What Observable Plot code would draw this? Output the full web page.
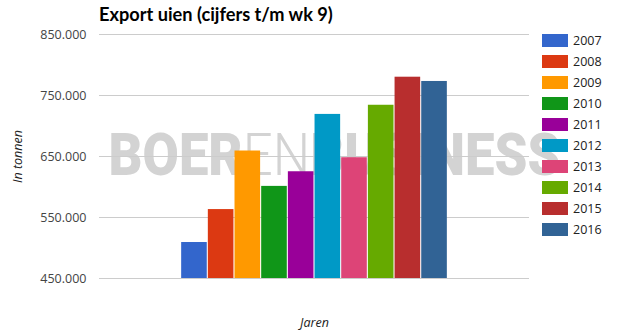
<!DOCTYPE html>
<html><head><meta charset="utf-8">
<script src="https://cdn.jsdelivr.net/npm/d3@7"></script>
<script src="https://cdn.jsdelivr.net/npm/@observablehq/plot@0.6"></script>
<style>
body{margin:0;background:#fff;}
#wrap{position:relative;width:621px;height:334px;overflow:hidden;}
#wrap > svg{position:absolute;left:0;top:0;}
#title{position:absolute;left:99px;top:2px;font-family:Lato;font-weight:bold;font-size:18.2px;line-height:24px;color:#000;white-space:nowrap;z-index:2;}
#legend{position:absolute;left:542px;top:34px;z-index:3;background:transparent;}
#legend, #legend *{background:transparent !important;}
#legend .lg-swatches{margin:0 !important;}
#legend .lg-swatch{padding-bottom:8px !important;height:13px;}
#legend .lg-swatch-label{line-height:13px;font-size:12.5px;color:#222;font-family:'Open Sans';overflow:visible !important;text-overflow:clip !important;}
#legend .lg-swatch > svg{margin-right:5px !important;}
</style></head><body>
<div id="wrap"><div id="title">Export uien (cijfers t/m wk 9)</div><div id="legend"></div></div>
<script>
const years = ["2007","2008","2009","2010","2011","2012","2013","2014","2015","2016"];
const exportTonnes = [509000,563000,659000,601000,625000,719000,648000,734000,780000,773000];
const colors = ["#3366cc","#dc3912","#ff9900","#109618","#990099","#0099c6","#dd4477","#66aa00","#b82e2e","#316395"];
const yDomain = [450000, 850000];
const yTicks = [450000, 550000, 650000, 750000, 850000];
const watermark = ["BOER", "EN", "BUSINESS"];

const nl = d3.formatLocale({decimal: ",", thousands: ".", grouping: [3], currency: ["€", ""]});
const fmt = nl.format(",d");
const data = years.map((y, i) => ({year: y, value: exportTonnes[i]}));

const chart = Plot.plot({
  width: 621, height: 334,
  marginTop: 34, marginBottom: 56, marginLeft: 99, marginRight: 92,
  style: {fontFamily: "'Open Sans'", fontSize: "12.5px", color: "#444", background: "transparent"},
  x: {type: "band", domain: years, paddingInner: 0.04, paddingOuter: 3.08, round: false, axis: null},
  y: {domain: yDomain, axis: null},
  color: {domain: years, range: colors},
  marks: [
    Plot.text([watermark.join("")], {frameAnchor: "left", textAnchor: "start", dx: 9, fontSize: 59, fontWeight: 900, fontFamily: "Roboto", fill: "#d3d3d3"}),
    Plot.gridY(yTicks, {stroke: "#ccc", strokeOpacity: 1}),
    Plot.axisY(yTicks, {tickSize: 0, tickPadding: 13, tickFormat: fmt, label: null}),
    Plot.axisY({ticks: [], tickSize: 0, label: "In tonnen", labelAnchor: "center", labelArrow: "none", labelOffset: 86, fontStyle: "italic", fill: "#222"}),
    Plot.axisX({ticks: [], tickSize: 0, label: "Jaren", labelAnchor: "center", labelArrow: "none", labelOffset: 48, fontStyle: "italic", fill: "#222"}),
    Plot.barY(data, {x: "year", y1: yDomain[0], y2: "value", fill: "year"})
  ]
});
document.getElementById("wrap").appendChild(chart);

// watermark: bold / light / bold, stretched to the reference width
const wmNode = Array.from(chart.querySelectorAll("text")).find(t => t.textContent === watermark.join(""));
if (wmNode) {
  const wm = d3.select(wmNode);
  wm.text(null);
  watermark.forEach((w, i) => wm.append("tspan").attr("font-weight", i === 1 ? 300 : 900).text(w));
  wm.attr("textLength", 452).attr("lengthAdjust", "spacingAndGlyphs");
}

const legend = chart.legend("color", {legend: "swatches", columns: 1, swatchWidth: 26, swatchHeight: 13, className: "lg"});
document.getElementById("legend").appendChild(legend);
</script>
</body></html>
